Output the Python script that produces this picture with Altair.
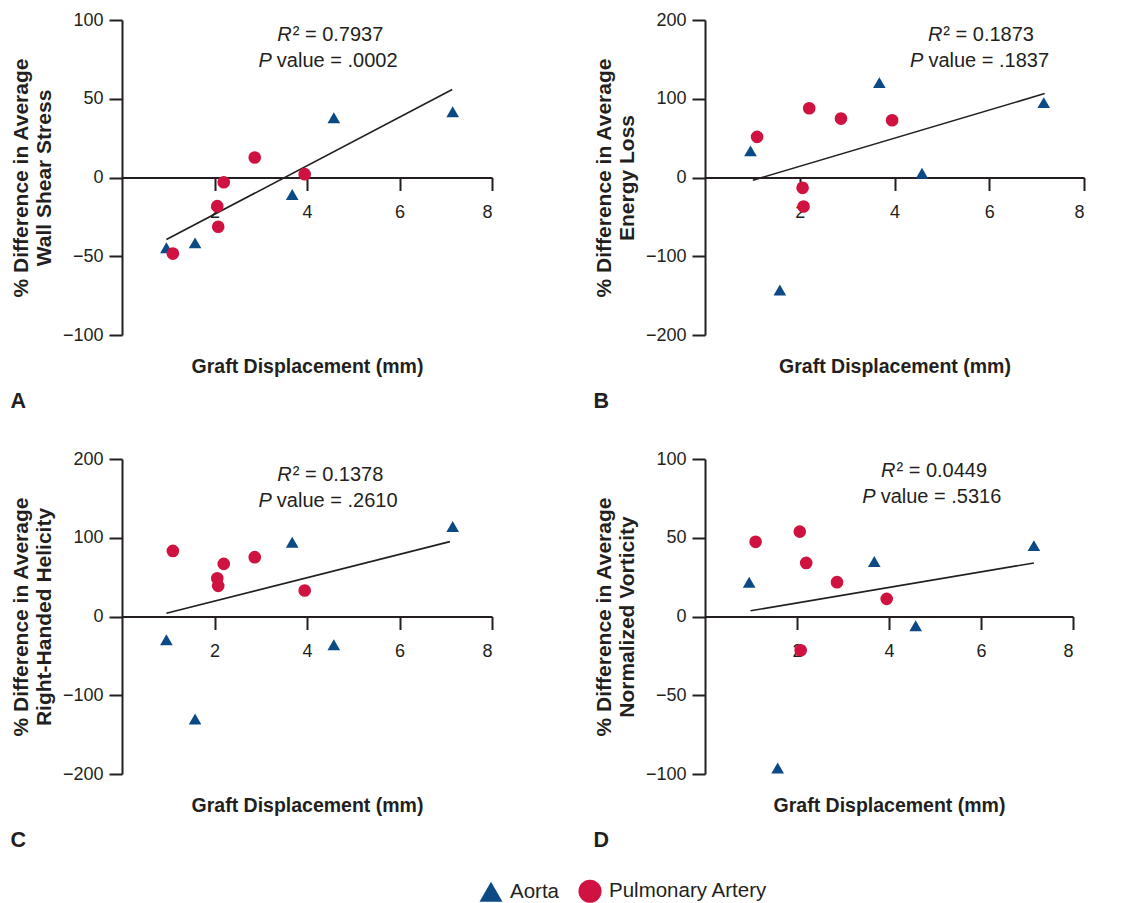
import altair as alt
import pandas as pd

FONT = "Liberation Sans"
INK = "#231f20"
BLUE = "#0b4a85"
RED = "#cf1240"

# ---------------- data ----------------
panel_letters = ["A", "B", "C", "D"]
y_titles = [
    ["% Difference in Average", "Wall Shear Stress"],
    ["% Difference in Average", "Energy Loss"],
    ["% Difference in Average", "Right-Handed Helicity"],
    ["% Difference in Average", "Normalized Vorticity"],
]
y_limits = [100, 200, 200, 100]
y_ticks = [
    [-100, -50, 0, 50, 100],
    [-200, -100, 0, 100, 200],
    [-200, -100, 0, 100, 200],
    [-100, -50, 0, 50, 100],
]
x_ticks = [2, 4, 6, 8]
vessels = ["Aorta", "Pulmonary Artery"]

aorta_disp = [0.96, 1.58, 3.68, 4.58, 7.15]
pa_disp = [1.10, 2.06, 2.08, 2.20, 2.87, 3.95]

aorta_vals = [
    [-44.6, -41.5, -10.8, 37.9, 41.7],
    [33.8, -142.9, 120.5, 5.5, 95.1],
    [-29.6, -130.2, 94.3, -35.9, 114.2],
    [21.8, -96.2, 34.9, -5.9, 45.0],
]
pa_vals = [
    [-48.3, -18.2, -31.3, -3.0, 12.7, 2.1],
    [51.6, -13.1, -36.8, 87.9, 74.8, 72.7],
    [83.3, 48.6, 38.9, 66.8, 75.3, 33.0],
    [47.4, 53.9, -21.4, 34.0, 21.8, 11.2],
]

fit_x = [[0.96, 7.14], [1.01, 7.17], [0.96, 7.09], [0.99, 7.15]]
fit_y = [[-39.4, 55.9], [-3.4, 106.6], [4.2, 95.1], [3.6, 34.0]]

r2_text = ["0.7937", "0.1873", "0.1378", "0.0449"]
p_text = [".0002", ".1837", ".2610", ".5316"]

# annotation anchors (data units)
r_anchor_x = [3.67, 5.01, 3.67, 4.14]
r_anchor_y = [90.3, 180.5, 179.7, 92.4]
p_anchor_x = [3.24, 4.61, 3.24, 3.71]
p_anchor_y = [74.0, 148.0, 146.7, 76.1]

# ---------------- layout ----------------
widths = [370, 379, 370, 368]
H = 315


def panel(i):
    lim = y_limits[i]
    xs = alt.Scale(domain=[0, 8], nice=False, zero=False)
    ys = alt.Scale(domain=[-lim, lim], nice=False, zero=False)
    x_enc = alt.X(
        "disp:Q",
        scale=xs,
        axis=alt.Axis(
            values=x_ticks,
            offset=-H / 2,
            title="Graft Displacement (mm)",
            titleFontSize=19.5,
            titleY=188.5,
            titleBaseline="middle",
            labelPadding=13,
        ),
    )
    y_enc = alt.Y(
        "val:Q",
        scale=ys,
        axis=alt.Axis(
            values=y_ticks[i],
            title=y_titles[i],
            titleFontSize=21,
            titleLineHeight=23,
            titlePadding=8,
            labelPadding=6,
        ),
    )
    pts = pd.DataFrame({
        "disp": aorta_disp + pa_disp,
        "val": aorta_vals[i] + pa_vals[i],
        "vessel": [vessels[0]] * len(aorta_disp) + [vessels[1]] * len(pa_disp),
    })
    fit_df = pd.DataFrame({"disp": fit_x[i], "val": fit_y[i]})
    r_it = pd.DataFrame({"disp": [r_anchor_x[i]], "val": [r_anchor_y[i]], "t": ["R"]})
    r_rest = pd.DataFrame({"disp": [r_anchor_x[i]], "val": [r_anchor_y[i]], "t": ["\u00b2 = " + r2_text[i]]})
    p_it = pd.DataFrame({"disp": [p_anchor_x[i]], "val": [p_anchor_y[i]], "t": ["P"]})
    p_rest = pd.DataFrame({"disp": [p_anchor_x[i]], "val": [p_anchor_y[i]], "t": ["value = " + p_text[i]]})

    leg = alt.Legend(title=None, symbolSize=530)
    fit = alt.Chart(fit_df).mark_line(color=INK, strokeWidth=1.6).encode(x=x_enc, y=y_enc)
    dots = alt.Chart(pts).mark_point(filled=True, size=160, opacity=1).encode(
        x=x_enc,
        y=y_enc,
        shape=alt.Shape("vessel:N", scale=alt.Scale(domain=vessels, range=["triangle-up", "circle"]), legend=leg),
        color=alt.Color("vessel:N", scale=alt.Scale(domain=vessels, range=[BLUE, RED]), legend=leg),
        order=alt.Order("vessel:N"),
    )
    base_txt = dict(font=FONT, fontSize=20, baseline="middle", color=INK)
    l1 = alt.Chart(r_it).mark_text(fontStyle="italic", align="right", **base_txt).encode(x=x_enc, y=y_enc, text="t:N")
    l2 = alt.Chart(r_rest).mark_text(align="left", dx=1, **base_txt).encode(x=x_enc, y=y_enc, text="t:N")
    l3 = alt.Chart(p_it).mark_text(fontStyle="italic", align="right", **base_txt).encode(x=x_enc, y=y_enc, text="t:N")
    l4 = alt.Chart(p_rest).mark_text(align="left", dx=5, **base_txt).encode(x=x_enc, y=y_enc, text="t:N")

    return alt.layer(fit, dots, l1, l2, l3, l4).properties(
        width=widths[i],
        height=H,
        title=alt.TitleParams(
            panel_letters[i], orient="bottom", anchor="start", fontSize=21.5,
            fontWeight="bold", font=FONT, color=INK, offset=15,
        ),
    )


row1 = alt.hconcat(panel(0), panel(1), spacing=100)
row2 = alt.hconcat(panel(2), panel(3), spacing=100)
chart = alt.vconcat(row1, row2, spacing=38).configure_view(stroke=None).configure_axis(
    domainColor=INK, domainWidth=2, tickColor=INK, tickWidth=2, tickSize=13,
    labelFont=FONT, labelFontSize=18, labelColor=INK,
    titleFont=FONT, titleFontWeight="bold", titleColor=INK,
    grid=False,
).configure_legend(
    orient="none", legendX=357, legendY=859, symbolSize=530, labelFont=FONT,
    labelFontSize=20.5, labelColor=INK, symbolStrokeWidth=0, direction="horizontal",
    columnPadding=19, labelOffset=7,
).properties(padding={"left": 2, "top": 3, "right": 5, "bottom": 5})

chart.save("out.html", embed_options={"renderer": "svg", "actions": False})
